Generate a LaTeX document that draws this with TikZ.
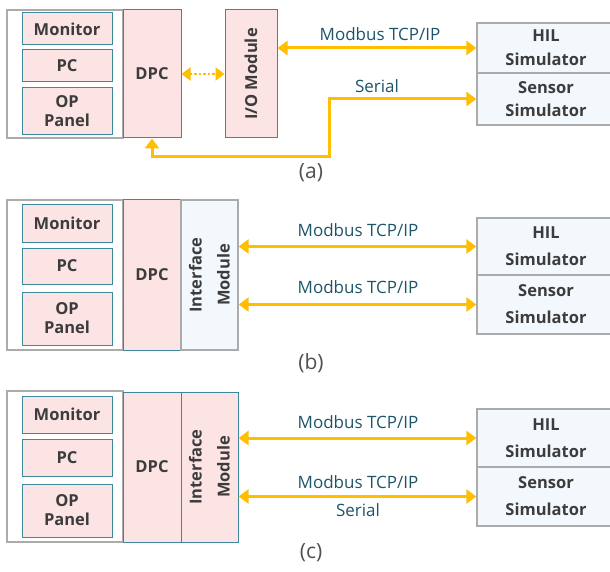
\documentclass[tikz,border=0pt]{standalone}
\usepackage{fontspec}
\setmainfont{Open Sans}
\usetikzlibrary{arrows.meta}
\definecolor{pinkfill}{HTML}{FDE4E4}
\definecolor{tealline}{HTML}{3A8A9C}
\definecolor{grayline}{HTML}{ABABAB}
\definecolor{simfill}{HTML}{F3F8FC}
\definecolor{boxtext}{HTML}{3C3C3C}
\definecolor{linktext}{HTML}{1D5568}
\definecolor{gold}{HTML}{FFBE00}
\tikzset{
  box/.style={rectangle, inner sep=0pt, align=center, text=boxtext,
    font=\fontsize{16.5}{19}\selectfont\bfseries},
  grp/.style={box, draw=grayline, line width=1.3pt, fill=white},
  pinkbox/.style={box, draw=tealline, line width=1pt, fill=pinkfill},
  simbox/.style={box, draw=grayline, line width=1.3pt, fill=simfill},
  linkarrow/.style={draw=gold, line width=3pt,
    {Triangle[length=10pt,width=14pt]}-{Triangle[length=10pt,width=14pt]}},
  uparrow/.style={draw=gold, line width=3pt, {Triangle[length=10pt,width=14pt]}-{Triangle[length=10pt,width=14pt]}},
  dotarrow/.style={draw=gold, line width=2.5pt, dotted,
    {Triangle[length=9pt,width=13pt]}-{Triangle[length=9pt,width=13pt]}},
  linklabel/.style={text=linktext, inner sep=0pt, font=\fontsize{17}{19}\selectfont},
  caption/.style={text=boxtext!90, inner sep=0pt, font=\fontsize{21}{24}\selectfont},
}
\begin{document}
\begin{tikzpicture}[x=1pt, y=-1pt]
\useasboundingbox (0,0) rectangle (610,572);

% ---------- (a) ----------
\node[grp, minimum width=116pt, minimum height=128pt] (outA) at (65,74) {};
\node[pinkbox, minimum width=90pt, minimum height=32pt] (monA) at (67,29) {Monitor};
\node[pinkbox, minimum width=90pt, minimum height=32pt] (pcA) at (67,66) {PC};
\node[pinkbox, minimum width=90pt, minimum height=47pt] (opA) at (67,111.5) {OP\\Panel};
\node[pinkbox, minimum width=58pt, minimum height=128pt] (dpcA) at (152,74) {DPC};
\node[pinkbox, minimum width=52pt, minimum height=128pt] (ioA) at (251,74) {};
\node[box, rotate=90] at (ioA.center) {I/O Module};
\node[simbox, minimum width=138pt, minimum height=50pt,
  font=\fontsize{16.5}{24}\selectfont\bfseries] (hilA) at (546,48) {HIL\\Simulator};
\node[simbox, minimum width=138pt, minimum height=52pt,
  font=\fontsize{16.5}{23}\selectfont\bfseries] (senA) at (546,99) {Sensor\\Simulator};

\draw[dotarrow] (dpcA.east) -- (ioA.west);
\draw[linkarrow] (ioA.east |- hilA.west) -- (hilA.west);
\coordinate (bendA) at (329,157);
\draw[uparrow] (dpcA.south) |- (bendA) |- (senA.west);
\node[linklabel] (lblA1) at (380,34) {Modbus TCP/IP};
\node[linklabel] (lblA2) at (377,86) {Serial};
\node[caption] (capA) at (311,173) {(a)};

% ---------- (b) ----------
\node[grp, minimum width=116pt, minimum height=150pt] (outB) at (65,275) {};
\node[pinkbox, minimum width=90pt, minimum height=37pt] (monB) at (67,223.5) {Monitor};
\node[pinkbox, minimum width=90pt, minimum height=36pt] (pcB) at (67,266) {PC};
\node[pinkbox, minimum width=90pt, minimum height=53pt] (opB) at (67,318.5) {OP\\Panel};
\node[pinkbox, minimum width=58pt, minimum height=150pt] (dpcB) at (152,275) {DPC};
\node[simbox, minimum width=57pt, minimum height=150pt] (ifB) at (209.5,275) {};
\node[box, rotate=90, font=\fontsize{16.5}{28}\selectfont\bfseries] at (ifB.center) {Interface\\Module};
\node[simbox, minimum width=138pt, minimum height=57pt,
  font=\fontsize{16.5}{27}\selectfont\bfseries] (hilB) at (546,246.5) {HIL\\Simulator};
\node[simbox, minimum width=138pt, minimum height=59pt,
  font=\fontsize{16.5}{27}\selectfont\bfseries] (senB) at (546,304.5) {Sensor\\Simulator};

\draw[linkarrow] (ifB.east |- hilB.west) -- (hilB.west);
\draw[linkarrow] (ifB.east |- senB.west) -- (senB.west);
\node[linklabel] (lblB1) at (358,230) {Modbus TCP/IP};
\node[linklabel] (lblB2) at (358,287) {Modbus TCP/IP};
\node[caption] (capB) at (311,363) {(b)};

% ---------- (c) ----------
\node[grp, minimum width=116pt, minimum height=151pt] (outC) at (65,466.5) {};
\node[pinkbox, minimum width=90pt, minimum height=37pt] (monC) at (67,414.5) {Monitor};
\node[pinkbox, minimum width=90pt, minimum height=37pt] (pcC) at (67,457.5) {PC};
\node[pinkbox, minimum width=90pt, minimum height=53pt] (opC) at (67,510.5) {OP\\Panel};
\node[pinkbox, minimum width=58pt, minimum height=150pt] (dpcC) at (152,467) {DPC};
\node[pinkbox, minimum width=57pt, minimum height=150pt] (ifC) at (209.5,467) {};
\node[box, rotate=90, font=\fontsize{16.5}{28}\selectfont\bfseries] at (ifC.center) {Interface\\Module};
\node[simbox, minimum width=138pt, minimum height=58pt,
  font=\fontsize{16.5}{27}\selectfont\bfseries] (hilC) at (546,438) {HIL\\Simulator};
\node[simbox, minimum width=138pt, minimum height=59pt,
  font=\fontsize{16.5}{27}\selectfont\bfseries] (senC) at (546,496.5) {Sensor\\Simulator};

\draw[linkarrow] (ifC.east |- hilC.west) -- (hilC.west);
\draw[linkarrow] (ifC.east |- senC.west) -- (senC.west);
\node[linklabel] (lblC1) at (358,422) {Modbus TCP/IP};
\node[linklabel] (lblC2) at (358,482) {Modbus TCP/IP};
\node[linklabel] (lblC3) at (358,510) {Serial};
\node[caption] (capC) at (311,553) {(c)};
\end{tikzpicture}
\end{document}
